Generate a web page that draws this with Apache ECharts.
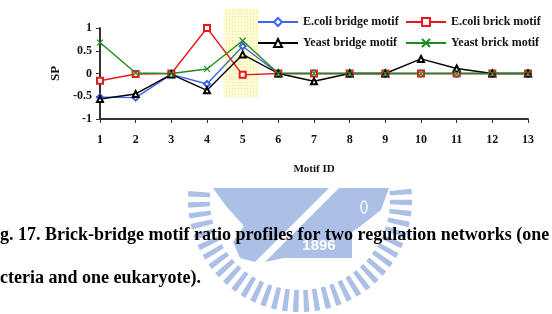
<!DOCTYPE html>
<html>
<head>
<meta charset="utf-8">
<script src="https://cdn.jsdelivr.net/npm/echarts@6/dist/echarts.min.js"></script>
<style>
  html, body { margin: 0; padding: 0; background: #fff; }
  #chart { width: 552px; height: 314px; }
</style>
</head>
<body>
<div id="chart"></div>
<script>
// motif ids on the x axis
var motifIds = ['1', '2', '3', '4', '5', '6', '7', '8', '9', '10', '11', '12', '13']
// SP values
var ecoliBridge = [-0.52, -0.53, -0.02, -0.23, 0.6, 0, 0, 0, 0, 0, 0, 0, 0]
var ecoliBrick = [-0.16, -0.01, 0, 1.0, -0.03, 0, 0, 0, 0, 0, 0, 0, 0]
var yeastBridge = [-0.56, -0.45, -0.02, -0.37, 0.42, 0, -0.17, 0, 0, 0.32, 0.11, 0, 0]
var yeastBrick = [0.68, 0.01, 0, 0.1, 0.72, 0, 0, 0, 0, 0, 0, 0, 0]
var yTicks = [-1, -0.5, 0, 0.5, 1]

var serif = 'Liberation Serif'
var crossPath = 'path://M0,0L10,10M10,0L0,10'
var logoBlue = '#abbfe7'

// small dotted tile for the yellow highlight
var tile = document.createElement('canvas')
tile.width = 3
tile.height = 3
var tctx = tile.getContext('2d')
tctx.fillStyle = '#fdfbd6'
tctx.fillRect(0, 0, 3, 3)
tctx.fillStyle = '#f3e98a'
tctx.fillRect(1, 1, 1, 1)

var chart = echarts.init(document.getElementById('chart'))

function legendAt(name, left, top) {
  return {
    data: [name],
    left: left,
    top: top,
    itemWidth: 40,
    itemHeight: 10,
    textStyle: { fontFamily: serif, fontWeight: 'bold', fontSize: 12, color: '#111' }
  }
}

function lineSeries(name, data, color, symbol) {
  return {
    name: name,
    type: 'line',
    data: data,
    symbol: symbol,
    symbolSize: 6,
    lineStyle: { color: color, width: 1.4 },
    itemStyle: { color: color, borderColor: color, borderWidth: 1.2 },
    z: 3
  }
}

var option = {
  animation: false,
  backgroundColor: '#fff',
  legend: [
    legendAt('E.coli bridge motif', 252, 11),
    legendAt('E.coli brick motif', 400, 11),
    legendAt('Yeast bridge motif', 252, 32),
    legendAt('Yeast brick motif', 400, 32)
  ],
  grid: { left: 100, right: 24, top: 28, bottom: 195 },
  xAxis: {
    type: 'category',
    data: motifIds,
    boundaryGap: false,
    name: 'Motif ID',
    nameLocation: 'middle',
    nameGap: 45,
    nameTextStyle: { fontFamily: serif, fontWeight: 'bold', fontSize: 11, color: '#111' },
    axisLine: { onZero: false, lineStyle: { color: '#333', width: 2 } },
    axisTick: { alignWithLabel: true, length: 4, lineStyle: { color: '#333' } },
    axisLabel: { fontFamily: serif, fontWeight: 'bold', fontSize: 12, color: '#111', margin: 15 },
    splitLine: { show: false }
  },
  yAxis: {
    type: 'value',
    min: -1,
    max: 1,
    interval: 0.5,
    name: 'SP',
    nameLocation: 'middle',
    nameGap: 36,
    nameTextStyle: { fontFamily: serif, fontWeight: 'bold', fontSize: 13, color: '#111' },
    axisLine: { show: true, lineStyle: { color: '#333', width: 2 } },
    axisTick: { show: true, length: 4, lineStyle: { color: '#333' } },
    axisLabel: {
      fontFamily: serif, fontWeight: 'bold', fontSize: 12, color: '#111', margin: 8,
      formatter: function (v) { return yTicks.indexOf(v) >= 0 ? String(v) : '' }
    },
    splitLine: { show: false }
  },
  series: [
    lineSeries('E.coli bridge motif', ecoliBridge, '#3f63f0', 'emptyDiamond'),
    lineSeries('E.coli brick motif', ecoliBrick, '#e8191c', 'emptyRect'),
    lineSeries('Yeast bridge motif', yeastBridge, '#000000', 'emptyTriangle'),
    lineSeries('Yeast brick motif', yeastBrick, '#1e8c1e', crossPath)
  ]
}
chart.setOption(option)

// yellow highlight box around motif 5, placed from the axes
var p4 = chart.convertToPixel({ gridIndex: 0 }, [3, 0])
var p5 = chart.convertToPixel({ gridIndex: 0 }, [4, 0])
var step = p5[0] - p4[0]
var yTop = chart.convertToPixel({ gridIndex: 0 }, [4, 1.43])[1]
var yBot = chart.convertToPixel({ gridIndex: 0 }, [4, -0.53])[1]

// faint watermark logo (its top is hidden behind the chart image)
var cx = 300, cy = 200
chart.setOption({
  graphic: [
    {
      type: 'rect', z: 1, silent: true,
      shape: { x: p5[0] - step * 0.53, y: yTop, width: step * 0.98, height: yBot - yTop },
      style: { fill: { image: tile, repeat: 'repeat' }, stroke: null }
    },
    {
      type: 'arc', z: 0, silent: true,
      shape: { cx: cx, cy: cy, r: 101, startAngle: -0.1, endAngle: Math.PI + 0.1 },
      style: { stroke: logoBlue, lineWidth: 22, lineDash: [5, 5], fill: null }
    },
    {
      type: 'polygon', z: 0, silent: true,
      shape: { points: [[213, 188], [329, 188], [255, 262], [240, 258], [233, 242], [244, 226], [226, 206]] },
      style: { fill: logoBlue }
    },
    {
      type: 'polygon', z: 0, silent: true,
      shape: { points: [[339, 188], [389, 188], [381, 210], [358, 228], [352, 232], [352, 258], [284, 258], [265, 262]] },
      style: { fill: logoBlue }
    },
    {
      type: 'ellipse', z: 0, silent: true,
      shape: { cx: 364, cy: 207, rx: 3, ry: 6 },
      style: { stroke: '#fff', lineWidth: 1.5, fill: null }
    },
    {
      type: 'text', z: 0, silent: true,
      style: { x: 319, y: 246, text: '1896', fill: '#fff', font: 'bold 15px Liberation Sans', align: 'center', verticalAlign: 'middle' }
    },
    {
      type: 'text', z: 5, silent: true,
      style: { x: 0, y: 235, text: 'g. 17. Brick-bridge motif ratio profiles for two regulation networks (one', fill: '#000', font: 'bold 18px Liberation Serif', verticalAlign: 'middle' }
    },
    {
      type: 'text', z: 5, silent: true,
      style: { x: 0, y: 278, text: 'cteria and one eukaryote).', fill: '#000', font: 'bold 18px Liberation Serif', verticalAlign: 'middle' }
    }
  ]
})
</script>
</body>
</html>
